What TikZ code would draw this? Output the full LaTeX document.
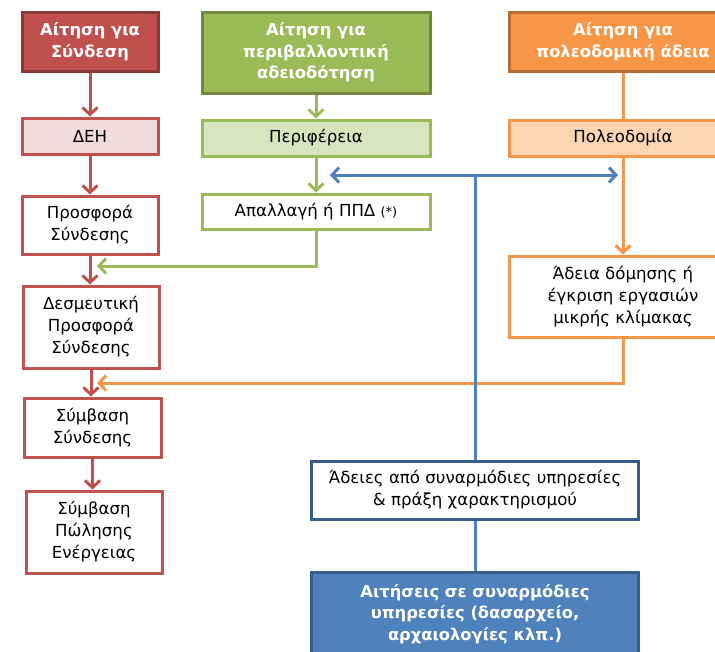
\documentclass[tikz,border=0pt]{standalone}
\usepackage{fontspec}
\setmainfont{DejaVu Sans}
\usetikzlibrary{arrows.meta}
\definecolor{cRed}{HTML}{C0504D}
\definecolor{cRedD}{HTML}{8C3836}
\definecolor{cRedL}{HTML}{F2DCDB}
\definecolor{cGreen}{HTML}{9BBB59}
\definecolor{cGreenD}{HTML}{71893F}
\definecolor{cGreenL}{HTML}{D7E4BD}
\definecolor{cOrange}{HTML}{F79646}
\definecolor{cOrangeD}{HTML}{B66D31}
\definecolor{cOrangeL}{HTML}{FBD4B4}
\definecolor{cBlue}{HTML}{4F81BD}
\definecolor{cBlueD}{HTML}{385D8A}
\begin{document}
\begin{tikzpicture}[x=1pt,y=-1pt,
  box/.style={draw, line width=3pt, rectangle, inner sep=0pt, align=center,
    font=\fontsize{16.6}{22}\selectfont, text=black, fill=white},
  hdr/.style={box, font=\fontsize{16.3}{21.5}\selectfont\bfseries, text=white},
  tip/.style={-{Straight Barb[length=7pt,width=15pt,line width=3pt]}},
  conn/.style={line width=3pt},
  rarr/.style={conn, tip, draw=cRed},
  garr/.style={conn, tip, draw=cGreen},
  oarr/.style={conn, tip, draw=cOrange},
  oline/.style={conn, draw=cOrange},
  barr/.style={conn, tip, draw=cBlue},
  bline/.style={conn, draw=cBlue}]
\useasboundingbox (0,0) rectangle (715,651);
\fill[white] (0,0) rectangle (715,651);
% headers
\node[hdr, fill=cRed, draw=cRedD, minimum width=136, minimum height=59] (hr) at (90,41.5) {Αίτηση για\\Σύνδεση};
\node[hdr, fill=cGreen, draw=cGreenD, minimum width=228, minimum height=81] (hg) at (316,52.5) {Αίτηση για\\περιβαλλοντική\\αδειοδότηση};
\node[hdr, fill=cOrange, draw=cOrangeD, minimum width=228, minimum height=59] (ho) at (623,41.5) {Αίτηση για\\πολεοδομική άδεια};
% second row
\node[box, fill=cRedL, draw=cRed, minimum width=136, minimum height=36] (deh) at (90,136) {ΔΕΗ};
\node[box, fill=cGreenL, draw=cGreen, minimum width=228, minimum height=36] (per) at (316,138) {Περιφέρεια};
\node[box, fill=cOrangeL, draw=cOrange, minimum width=228, minimum height=36] (pol) at (623,138) {Πολεοδομία};
% third row
\node[box, draw=cRed, minimum width=136, minimum height=58] (prosf) at (90,225) {Προσφορά\\Σύνδεσης};
\node[box, draw=cGreen, minimum width=228, minimum height=35] (apal) at (316,211.5) {Απαλλαγή ή ΠΠΔ {\fontsize{13}{15}\selectfont(*)}};
\node[box, draw=cOrange, minimum width=228, minimum height=81] (adeia) at (623,296.5) {Άδεια δόμησης ή\\έγκριση εργασιών\\μικρής κλίμακας};
% red column
\node[box, draw=cRed, minimum width=136, minimum height=82] (desm) at (91,327) {Δεσμευτική\\Προσφορά\\Σύνδεσης};
\node[box, draw=cRed, minimum width=137, minimum height=59] (symb) at (92.5,427.5) {Σύμβαση\\Σύνδεσης};
\node[box, draw=cRed, minimum width=136, minimum height=82] (symbp) at (94,532) {Σύμβαση\\Πώλησης\\Ενέργειας};
% blue
\node[box, draw=cBlueD, minimum width=327, minimum height=58] (ades) at (475,490) {Άδειες από συναρμόδιες υπηρεσίες\\\& πράξη χαρακτηρισμού};
\node[hdr, fill=cBlue, draw=cBlueD, minimum width=327, minimum height=84] (ait) at (475,614) {Αιτήσεις σε συναρμόδιες\\υπηρεσίες (δασαρχείο,\\αρχαιολογίες κλπ.)};
% coordinates
\coordinate (gtip) at (97,266);
\coordinate (otip) at (97,383);
\coordinate (bj) at (475,175);
\coordinate (bl) at (330,175);
\coordinate (br) at (618,175);
% red arrows
\draw[rarr] (hr) -- (deh);
\draw[rarr] (deh) -- (prosf);
\draw[rarr] (prosf.south) -- (prosf.south |- desm.north);
\draw[rarr] (desm.south) -- (desm.south |- symb.north);
\draw[rarr] (symb.south) -- (symb.south |- symbp.north);
% green arrows
\draw[garr] (hg) -- (per);
\draw[garr] (per) -- (apal);
\draw[garr] (apal.south) |- (gtip);
% orange arrows
\draw[oline] (ho) -- (pol);
\draw[oarr] (pol) -- (adeia);
\draw[oarr] (adeia.south) |- (otip);
% blue
\draw[barr] (bj) -- (bl);
\draw[barr] (bj) -- (br);
\draw[bline] (bj) -- (ades.north);
\draw[bline] (ades.south) -- (ait.north);
\end{tikzpicture}
\end{document}
